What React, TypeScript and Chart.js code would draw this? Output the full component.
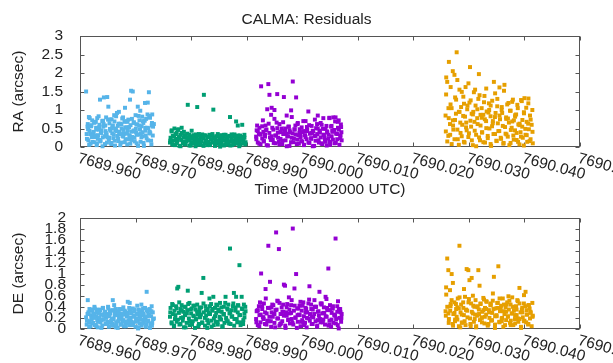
import React, { useEffect, useRef } from 'react';
import { Chart, registerables } from 'chart.js';

Chart.register(...registerables);

const FONT = "'Liberation Sans', Arial, Helvetica, sans-serif";
const TEXT = '#222222';
const FRAME = '#555555';
const FS = 15.5;

const chartTitle = 'CALMA: Residuals';
const xAxisTitle = 'Time (MJD2000 UTC)';
const raAxisTitle = 'RA (arcsec)';
const deAxisTitle = 'DE (arcsec)';

const xTickLabels = ['7689.960', '7689.970', '7689.980', '7689.990', '7690.000', '7690.010', '7690.020', '7690.030', '7690.040', '7690.050'];
const raTickLabels = ['0', '0.5', '1', '1.5', '2', '2.5', '3'];
const deTickLabels = ['0', '0.2', '0.4', '0.6', '0.8', '1', '1.2', '1.4', '1.6', '1.8', '2'];

const seriesColors = ['#56b4e9', '#009e73', '#9400d3', '#e69f00'];

// ---- blue pass ----
const blueT = [
  7689.9611, 7689.9612, 7689.9614, 7689.9615, 7689.9616, 7689.9617, 7689.9619, 7689.9620, 7689.9621, 7689.9622,
  7689.9624, 7689.9625, 7689.9626, 7689.9627, 7689.9629, 7689.9630, 7689.9631, 7689.9632, 7689.9634, 7689.9635,
  7689.9636, 7689.9637, 7689.9638, 7689.9640, 7689.9641, 7689.9642, 7689.9643, 7689.9645, 7689.9646, 7689.9647,
  7689.9648, 7689.9649, 7689.9651, 7689.9652, 7689.9653, 7689.9654, 7689.9656, 7689.9657, 7689.9658, 7689.9659,
  7689.9660, 7689.9662, 7689.9663, 7689.9664, 7689.9665, 7689.9667, 7689.9668, 7689.9669, 7689.9670, 7689.9671,
  7689.9673, 7689.9674, 7689.9675, 7689.9676, 7689.9678, 7689.9679, 7689.9680, 7689.9681, 7689.9682, 7689.9684,
  7689.9685, 7689.9686, 7689.9687, 7689.9689, 7689.9690, 7689.9691, 7689.9692, 7689.9693, 7689.9695, 7689.9696,
  7689.9697, 7689.9698, 7689.9700, 7689.9701, 7689.9702, 7689.9703, 7689.9704, 7689.9706, 7689.9707, 7689.9708,
  7689.9709, 7689.9711, 7689.9712, 7689.9713, 7689.9714, 7689.9715, 7689.9717, 7689.9718, 7689.9719, 7689.9720,
  7689.9722, 7689.9723, 7689.9724, 7689.9725, 7689.9726, 7689.9728, 7689.9729, 7689.9730, 7689.9731, 7689.9733,
];
const blueRA = [
  1.50, 0.35, 0.62, 0.18, 0.81, 0.44, 0.09, 0.56, 0.27, 0.72,
  0.40, 0.13, 0.66, 0.31, 0.52, 0.05, 0.78, 0.22, 0.47, 0.60,
  1.28, 0.15, 0.38, 0.70, 0.26, 0.55, 1.34, 0.08, 0.43, 0.80,
  0.33, 1.35, 1.09, 0.20, 0.64, 0.49, 0.11, 0.75, 0.37, 0.58,
  0.24, 0.69, 0.04, 0.46, 0.83, 0.30, 0.57, 0.16, 0.95, 0.41,
  0.63, 0.12, 0.50, 0.77, 0.28, 0.36, 0.68, 1.06, 0.21, 0.53,
  0.07, 0.45, 0.74, 0.32, 1.28, 0.59, 1.52, 0.19, 1.50, 0.42,
  0.67, 0.25, 0.86, 0.39, 0.10, 0.61, 1.09, 0.34, 0.72, 0.48,
  0.14, 0.56, 0.82, 0.29, 0.65, 0.03, 1.19, 0.44, 0.76, 0.23,
  1.20, 0.51, 1.48, 0.37, 0.79, 0.17, 0.58, 0.88, 0.31, 0.62,
];
const blueDE = [
  0.21, 0.08, 0.52, 0.30, 0.14, 0.36, 0.05, 0.25, 0.18, 0.33,
  0.11, 0.28, 0.40, 0.07, 0.22, 0.35, 0.16, 0.03, 0.29, 0.19,
  0.34, 0.12, 0.26, 0.06, 0.38, 0.17, 0.24, 0.31, 0.09, 0.20,
  0.27, 0.13, 0.37, 0.04, 0.23, 0.30, 0.15, 0.33, 0.10, 0.52,
  0.19, 0.06, 0.29, 0.36, 0.12, 0.25, 0.02, 0.32, 0.18, 0.27,
  0.08, 0.35, 0.21, 0.14, 0.39, 0.05, 0.26, 0.31, 0.11, 0.23,
  0.30, 0.49, 0.16, 0.07, 0.34, 0.20, 0.28, 0.13, 0.37, 0.09,
  0.24, 0.32, 0.04, 0.18, 0.27, 0.42, 0.15, 0.35, 0.10, 0.22,
  0.29, 0.06, 0.33, 0.17, 0.25, 0.12, 0.38, 0.21, 0.08, 0.67,
  0.31, 0.14, 0.26, 0.36, 0.02, 0.23, 0.41, 0.11, 0.30, 0.19,
];
const blueT2 = [
  7689.96125, 7689.96145, 7689.96165, 7689.96185, 7689.96205, 7689.96225, 7689.96245, 7689.96265, 7689.96285, 7689.96305,
  7689.96325, 7689.96345, 7689.96365, 7689.96385, 7689.96405, 7689.96425, 7689.96445, 7689.96465, 7689.96485, 7689.96505,
  7689.96525, 7689.96545, 7689.96565, 7689.96585, 7689.96605, 7689.96625, 7689.96645, 7689.96665, 7689.96685, 7689.96705,
  7689.96725, 7689.96745, 7689.96765, 7689.96785, 7689.96805, 7689.96825, 7689.96845, 7689.96865, 7689.96885, 7689.96905,
  7689.96925, 7689.96945, 7689.96965, 7689.96985, 7689.97005, 7689.97025, 7689.97045, 7689.97065, 7689.97085, 7689.97105,
  7689.97125, 7689.97145, 7689.97165, 7689.97185, 7689.97205, 7689.97225, 7689.97245, 7689.97265, 7689.97285, 7689.97315,
];
const blueRA2 = [
  0.22, 0.48, 0.06, 0.35, 0.59, 0.14, 0.41, 0.27, 0.68, 0.10,
  0.32, 0.53, 0.19, 0.45, 0.02, 0.62, 0.29, 0.38, 0.12, 0.74,
  0.25, 0.44, 0.08, 0.57, 0.34, 0.17, 0.50, 0.92, 0.23, 0.39,
  0.05, 0.61, 0.30, 0.46, 0.13, 0.70, 0.36, 0.21, 0.54, 0.09,
  0.42, 0.27, 0.65, 0.15, 0.49, 0.33, 0.03, 0.58, 0.98, 0.26,
  0.40, 0.11, 0.71, 0.31, 0.52, 0.18, 0.84, 0.37, 0.07, 0.55,
];
const blueDE2 = [
  0.15, 0.27, 0.04, 0.33, 0.19, 0.10, 0.24, 0.37, 0.07, 0.29,
  0.13, 0.21, 0.35, 0.02, 0.26, 0.17, 0.31, 0.09, 0.23, 0.40,
  0.12, 0.28, 0.06, 0.34, 0.18, 0.25, 0.03, 0.30, 0.14, 0.36,
  0.20, 0.08, 0.27, 0.16, 0.33, 0.05, 0.24, 0.11, 0.38, 0.19,
  0.29, 0.07, 0.22, 0.35, 0.13, 0.26, 0.01, 0.31, 0.17, 0.44,
  0.10, 0.28, 0.21, 0.04, 0.34, 0.15, 0.25, 0.09, 0.32, 0.18,
];
const blueT3 = [
  7689.96135, 7689.96175, 7689.96215, 7689.96255, 7689.96295, 7689.96335, 7689.96375, 7689.96415, 7689.96455, 7689.96495,
  7689.96535, 7689.96575, 7689.96615, 7689.96655, 7689.96695, 7689.96735, 7689.96775, 7689.96815, 7689.96855, 7689.96895,
  7689.96935, 7689.96975, 7689.97015, 7689.97055, 7689.97095, 7689.97135, 7689.97175, 7689.97215, 7689.97255, 7689.97295,
];
const blueRA3 = [
  0.55, 0.78, 0.31, 0.66, 0.47, 0.83, 0.39, 0.71, 0.58, 0.26,
  0.74, 0.50, 0.86, 0.43, 0.63, 0.35, 0.80, 0.53, 0.68, 0.29,
  0.76, 0.45, 0.61, 0.84, 0.37, 0.70, 0.52, 0.88, 0.41, 0.65,
];
const blueDE3 = [
  0.27, 0.12, 0.35, 0.20, 0.05, 0.31, 0.16, 0.38, 0.24, 0.09,
  0.33, 0.18, 0.43, 0.07, 0.29, 0.22, 0.36, 0.13, 0.26, 0.47,
  0.11, 0.32, 0.19, 0.03, 0.28, 0.37, 0.15, 0.23, 0.34, 0.06,
];

// ---- green pass ----
const greenT = [
  7689.9762, 7689.9763, 7689.9765, 7689.9766, 7689.9767, 7689.9769, 7689.9770, 7689.9771, 7689.9773, 7689.9774,
  7689.9775, 7689.9777, 7689.9778, 7689.9779, 7689.9781, 7689.9782, 7689.9783, 7689.9785, 7689.9786, 7689.9787,
  7689.9789, 7689.9790, 7689.9792, 7689.9793, 7689.9794, 7689.9796, 7689.9797, 7689.9798, 7689.9800, 7689.9801,
  7689.9803, 7689.9804, 7689.9805, 7689.9807, 7689.9808, 7689.9809, 7689.9811, 7689.9812, 7689.9814, 7689.9815,
  7689.9816, 7689.9818, 7689.9819, 7689.9820, 7689.9822, 7689.9823, 7689.9825, 7689.9826, 7689.9827, 7689.9829,
  7689.9830, 7689.9831, 7689.9833, 7689.9834, 7689.9836, 7689.9837, 7689.9838, 7689.9840, 7689.9841, 7689.9843,
  7689.9844, 7689.9845, 7689.9847, 7689.9848, 7689.9849, 7689.9851, 7689.9852, 7689.9854, 7689.9855, 7689.9856,
  7689.9858, 7689.9859, 7689.9860, 7689.9862, 7689.9863, 7689.9865, 7689.9866, 7689.9867, 7689.9869, 7689.9870,
  7689.9871, 7689.9873, 7689.9874, 7689.9876, 7689.9877, 7689.9878, 7689.9880, 7689.9881, 7689.9883, 7689.9884,
  7689.9885, 7689.9887, 7689.9888, 7689.9889, 7689.9891, 7689.9892, 7689.9894, 7689.9895, 7689.9896, 7689.9898,
];
const greenRA = [
  0.12, 0.25, 0.45, 0.08, 0.30, 0.18, 0.50, 0.05, 0.22, 0.38,
  0.14, 0.48, 0.27, 0.03, 0.33, 0.19, 0.52, 0.10, 0.26, 0.41,
  0.07, 0.31, 0.16, 0.36, 1.14, 0.21, 0.04, 0.29, 0.13, 0.44,
  0.24, 0.09, 0.32, 0.17, 0.02, 0.27, 1.08, 0.11, 0.35, 0.20,
  0.06, 0.28, 0.15, 0.34, 0.23, 1.41, 0.10, 0.30, 0.18, 0.05,
  0.26, 0.14, 0.33, 0.08, 0.21, 0.31, 0.12, 1.01, 0.25, 0.03,
  0.19, 0.29, 0.09, 0.35, 0.16, 0.24, 0.06, 0.32, 0.13, 0.22,
  0.28, 0.04, 0.18, 0.33, 0.11, 0.26, 0.20, 0.07, 0.30, 0.81,
  0.15, 0.24, 0.05, 0.29, 0.12, 0.34, 0.19, 0.69, 0.09, 0.58,
  0.22, 0.14, 0.31, 0.06, 0.27, 0.60, 0.17, 0.10, 0.25, 0.13,
];
const greenDE = [
  0.22, 0.38, 0.10, 0.45, 0.27, 0.05, 0.33, 0.18, 0.41, 0.13,
  0.73, 0.76, 0.29, 0.08, 0.36, 0.20, 0.43, 0.15, 0.31, 0.03,
  0.25, 0.40, 0.11, 0.34, 0.69, 0.19, 0.47, 0.07, 0.28, 0.37,
  0.14, 0.42, 0.23, 0.02, 0.35, 0.17, 0.44, 0.26, 0.09, 0.32,
  0.21, 0.39, 0.65, 0.12, 0.92, 0.30, 0.06, 0.41, 0.24, 0.16,
  0.36, 0.10, 0.55, 0.27, 0.45, 0.04, 0.33, 0.58, 0.19, 0.38,
  0.13, 0.29, 0.43, 0.08, 0.35, 0.22, 0.47, 0.17, 0.31, 0.05,
  0.26, 0.40, 0.11, 0.58, 0.20, 0.37, 0.14, 0.44, 0.28, 1.45,
  0.09, 0.34, 0.23, 0.46, 0.65, 0.18, 0.39, 0.58, 0.12, 0.30,
  0.42, 1.15, 0.25, 0.07, 0.58, 0.36, 0.16, 0.44, 0.21, 0.32,
];
const greenT2 = [
  7689.97625, 7689.97648, 7689.97671, 7689.97694, 7689.97717, 7689.97740, 7689.97763, 7689.97786, 7689.97809, 7689.97832,
  7689.97855, 7689.97878, 7689.97901, 7689.97924, 7689.97947, 7689.97970, 7689.97993, 7689.98016, 7689.98039, 7689.98062,
  7689.98085, 7689.98108, 7689.98131, 7689.98154, 7689.98177, 7689.98200, 7689.98223, 7689.98246, 7689.98269, 7689.98292,
  7689.98315, 7689.98338, 7689.98361, 7689.98384, 7689.98407, 7689.98430, 7689.98453, 7689.98476, 7689.98499, 7689.98522,
  7689.98545, 7689.98568, 7689.98591, 7689.98614, 7689.98637, 7689.98660, 7689.98683, 7689.98706, 7689.98729, 7689.98752,
  7689.98775, 7689.98798, 7689.98821, 7689.98844, 7689.98867, 7689.98890, 7689.98913, 7689.98936, 7689.98959, 7689.98975,
];
const greenRA2 = [
  0.17, 0.42, 0.06, 0.29, 0.35, 0.11, 0.46, 0.23, 0.02, 0.38,
  0.15, 0.31, 0.08, 0.26, 0.19, 0.33, 0.04, 0.22, 0.28, 0.12,
  0.34, 0.07, 0.20, 0.30, 0.14, 0.25, 0.03, 0.32, 0.18, 0.10,
  0.27, 0.05, 0.21, 0.35, 0.13, 0.24, 0.09, 0.30, 0.16, 0.01,
  0.26, 0.19, 0.33, 0.06, 0.22, 0.12, 0.29, 0.04, 0.34, 0.17,
  0.08, 0.25, 0.14, 0.31, 0.02, 0.20, 0.27, 0.11, 0.33, 0.07,
];
const greenDE2 = [
  0.30, 0.12, 0.43, 0.06, 0.25, 0.37, 0.17, 0.48, 0.09, 0.33,
  0.21, 0.40, 0.03, 0.28, 0.45, 0.14, 0.35, 0.08, 0.24, 0.42,
  0.18, 0.31, 0.05, 0.38, 0.26, 0.11, 0.46, 0.20, 0.34, 0.02,
  0.29, 0.41, 0.15, 0.36, 0.07, 0.23, 0.44, 0.13, 0.32, 0.19,
  0.39, 0.04, 0.27, 0.47, 0.16, 0.35, 0.10, 0.30, 0.22, 0.41,
  0.06, 0.33, 0.18, 0.43, 0.25, 0.12, 0.37, 0.09, 0.28, 0.40,
];

// ---- purple pass ----
const purpleT = [
  7689.9917, 7689.9918, 7689.9920, 7689.9922, 7689.9923, 7689.9925, 7689.9926, 7689.9928, 7689.9930, 7689.9931,
  7689.9933, 7689.9934, 7689.9936, 7689.9937, 7689.9939, 7689.9941, 7689.9942, 7689.9944, 7689.9945, 7689.9947,
  7689.9948, 7689.9950, 7689.9952, 7689.9953, 7689.9955, 7689.9956, 7689.9958, 7689.9959, 7689.9961, 7689.9963,
  7689.9964, 7689.9966, 7689.9967, 7689.9969, 7689.9970, 7689.9972, 7689.9973, 7689.9975, 7689.9977, 7689.9978,
  7689.9980, 7689.9981, 7689.9983, 7689.9984, 7689.9986, 7689.9988, 7689.9989, 7689.9991, 7689.9992, 7689.9994,
  7689.9995, 7689.9997, 7689.9999, 7690.0000, 7690.0002, 7690.0003, 7690.0005, 7690.0006, 7690.0008, 7690.0009,
  7690.0011, 7690.0013, 7690.0014, 7690.0016, 7690.0017, 7690.0019, 7690.0020, 7690.0022, 7690.0024, 7690.0025,
  7690.0027, 7690.0028, 7690.0030, 7690.0031, 7690.0033, 7690.0035, 7690.0036, 7690.0038, 7690.0039, 7690.0041,
  7690.0042, 7690.0044, 7690.0045, 7690.0047, 7690.0049, 7690.0050, 7690.0052, 7690.0053, 7690.0055, 7690.0056,
  7690.0058, 7690.0060, 7690.0061, 7690.0063, 7690.0064, 7690.0066, 7690.0067, 7690.0069, 7690.0070, 7690.0071,
];
const purpleRA = [
  0.28, 0.45, 0.12, 0.36, 0.52, 0.07, 1.64, 0.23, 0.41, 0.16,
  0.33, 0.58, 0.05, 1.02, 1.70, 1.41, 0.26, 0.87, 1.06, 0.19,
  0.47, 1.00, 0.10, 0.31, 1.43, 0.39, 0.14, 0.62, 0.22, 0.50,
  0.08, 0.35, 1.35, 0.44, 0.18, 0.85, 0.29, 0.55, 0.03, 0.40,
  0.99, 0.25, 1.77, 0.13, 0.48, 0.34, 1.34, 0.20, 0.65, 0.09,
  0.38, 0.27, 0.53, 0.15, 0.43, 0.06, 0.32, 0.70, 0.21, 0.46,
  0.96, 0.11, 0.37, 0.24, 0.57, 0.02, 0.42, 0.30, 0.17, 0.51,
  0.35, 0.85, 0.12, 0.44, 0.26, 0.60, 0.08, 0.78, 0.33, 0.19,
  0.49, 0.04, 0.39, 0.23, 0.79, 0.14, 0.55, 0.29, 0.41, 0.80,
  0.10, 0.80, 0.36, 0.21, 0.68, 0.47, 0.06, 0.31, 0.54, 0.18,
];
const purpleDE = [
  0.18, 0.32, 0.07, 0.41, 0.25, 0.12, 1.00, 0.36, 0.21, 0.46,
  0.09, 0.72, 0.28, 0.15, 1.50, 0.38, 0.85, 0.04, 0.30, 0.22,
  0.43, 0.11, 0.34, 1.74, 0.19, 0.50, 1.44, 0.06, 0.27, 0.39,
  0.14, 0.31, 0.80, 0.78, 0.02, 0.24, 0.45, 0.17, 0.35, 0.10,
  0.29, 0.52, 1.81, 0.08, 0.73, 0.20, 0.99, 0.37, 0.13, 0.26,
  0.42, 0.05, 0.33, 0.16, 0.48, 0.23, 0.11, 0.38, 0.03, 0.30,
  0.19, 0.77, 0.27, 0.44, 0.09, 0.35, 0.21, 0.52, 0.14, 0.40,
  0.06, 0.31, 0.24, 0.67, 0.12, 0.46, 0.28, 0.17, 0.39, 0.08,
  0.58, 0.22, 0.34, 1.09, 0.15, 0.43, 0.04, 0.29, 0.37, 0.11,
  0.25, 1.63, 0.18, 0.41, 0.07, 0.36, 0.20, 0.30, 0.13, 0.27,
];
const purpleT2 = [
  7689.99175, 7689.99201, 7689.99227, 7689.99253, 7689.99279, 7689.99305, 7689.99331, 7689.99357, 7689.99383, 7689.99409,
  7689.99435, 7689.99461, 7689.99487, 7689.99513, 7689.99539, 7689.99565, 7689.99591, 7689.99617, 7689.99643, 7689.99669,
  7689.99695, 7689.99721, 7689.99747, 7689.99773, 7689.99799, 7689.99825, 7689.99851, 7689.99877, 7689.99903, 7689.99929,
  7689.99955, 7689.99981, 7690.00007, 7690.00033, 7690.00059, 7690.00085, 7690.00111, 7690.00137, 7690.00163, 7690.00189,
  7690.00215, 7690.00241, 7690.00267, 7690.00293, 7690.00319, 7690.00345, 7690.00371, 7690.00397, 7690.00423, 7690.00449,
  7690.00475, 7690.00501, 7690.00527, 7690.00553, 7690.00579, 7690.00605, 7690.00631, 7690.00657, 7690.00683, 7690.00705,
];
const purpleRA2 = [
  0.21, 0.43, 0.09, 0.34, 0.56, 0.15, 0.28, 0.47, 0.04, 0.38,
  0.19, 0.52, 0.11, 0.31, 0.66, 0.25, 0.07, 0.41, 0.17, 0.35,
  0.50, 0.02, 0.29, 0.45, 0.13, 0.37, 0.23, 0.58, 0.08, 0.32,
  0.48, 0.16, 0.40, 0.05, 0.27, 0.54, 0.12, 0.36, 0.22, 0.44,
  0.03, 0.30, 0.62, 0.18, 0.39, 0.10, 0.49, 0.26, 0.14, 0.42,
  0.33, 0.06, 0.57, 0.20, 0.46, 0.11, 0.35, 0.72, 0.24, 0.40,
];
const purpleDE2 = [
  0.12, 0.34, 0.05, 0.26, 0.41, 0.18, 0.30, 0.08, 0.38, 0.22,
  0.14, 0.44, 0.27, 0.03, 0.35, 0.19, 0.47, 0.10, 0.31, 0.24,
  0.06, 0.39, 0.16, 0.28, 0.43, 0.11, 0.33, 0.21, 0.02, 0.37,
  0.25, 0.13, 0.42, 0.07, 0.30, 0.20, 0.46, 0.15, 0.36, 0.09,
  0.27, 0.40, 0.04, 0.32, 0.18, 0.44, 0.12, 0.29, 0.23, 0.38,
  0.06, 0.34, 0.17, 0.41, 0.26, 0.10, 0.31, 0.01, 0.36, 0.20,
];
const purpleT3 = [
  7689.99188, 7689.99240, 7689.99292, 7689.99344, 7689.99396, 7689.99448, 7689.99500, 7689.99552, 7689.99604, 7689.99656,
  7689.99708, 7689.99760, 7689.99812, 7689.99864, 7689.99916, 7689.99968, 7690.00020, 7690.00072, 7690.00124, 7690.00176,
  7690.00228, 7690.00280, 7690.00332, 7690.00384, 7690.00436, 7690.00488, 7690.00540, 7690.00592, 7690.00644, 7690.00696,
];
const purpleRA3 = [
  0.58, 0.34, 0.72, 0.45, 0.63, 0.29, 0.76, 0.51, 0.40, 0.67,
  0.36, 0.55, 0.81, 0.47, 0.62, 0.31, 0.70, 0.43, 0.59, 0.38,
  0.74, 0.50, 0.65, 0.33, 0.57, 0.78, 0.44, 0.69, 0.52, 0.61,
];
const purpleDE3 = [
  0.33, 0.48, 0.21, 0.55, 0.14, 0.39, 0.27, 0.51, 0.09, 0.44,
  0.30, 0.57, 0.18, 0.42, 0.25, 0.49, 0.12, 0.36, 0.53, 0.22,
  0.40, 0.16, 0.46, 0.29, 0.54, 0.08, 0.37, 0.24, 0.50, 0.19,
];

// ---- orange pass ----
const orangeT = [
  7690.0258, 7690.0259, 7690.0261, 7690.0263, 7690.0264, 7690.0266, 7690.0267, 7690.0269, 7690.0271, 7690.0272,
  7690.0274, 7690.0275, 7690.0277, 7690.0278, 7690.0280, 7690.0282, 7690.0283, 7690.0285, 7690.0286, 7690.0288,
  7690.0290, 7690.0291, 7690.0293, 7690.0294, 7690.0296, 7690.0297, 7690.0299, 7690.0301, 7690.0302, 7690.0304,
  7690.0305, 7690.0307, 7690.0309, 7690.0310, 7690.0312, 7690.0313, 7690.0315, 7690.0317, 7690.0318, 7690.0320,
  7690.0321, 7690.0323, 7690.0324, 7690.0326, 7690.0328, 7690.0329, 7690.0331, 7690.0332, 7690.0334, 7690.0336,
  7690.0337, 7690.0339, 7690.0340, 7690.0342, 7690.0343, 7690.0345, 7690.0347, 7690.0348, 7690.0350, 7690.0351,
  7690.0353, 7690.0355, 7690.0356, 7690.0358, 7690.0359, 7690.0361, 7690.0362, 7690.0364, 7690.0366, 7690.0367,
  7690.0369, 7690.0370, 7690.0372, 7690.0374, 7690.0375, 7690.0377, 7690.0378, 7690.0380, 7690.0381, 7690.0383,
  7690.0385, 7690.0386, 7690.0388, 7690.0389, 7690.0391, 7690.0393, 7690.0394, 7690.0396, 7690.0397, 7690.0399,
  7690.0400, 7690.0402, 7690.0404, 7690.0405, 7690.0407, 7690.0408, 7690.0410, 7690.0411, 7690.0413, 7690.0415,
];
const orangeRA = [
  0.85, 1.42, 1.76, 0.30, 2.30, 0.62, 1.15, 0.08, 2.05, 0.47,
  1.95, 0.73, 1.28, 2.56, 0.21, 0.95, 1.55, 0.38, 1.08, 0.60,
  1.36, 0.14, 0.82, 1.62, 0.45, 1.02, 0.27, 1.20, 2.16, 0.55,
  0.90, 0.05, 1.48, 0.68, 1.12, 0.33, 0.78, 1.30, 1.97, 0.18,
  0.58, 1.05, 0.40, 0.87, 1.38, 0.12, 0.70, 0.96, 0.24, 1.18,
  0.50, 0.83, 0.03, 1.25, 0.64, 1.76, 0.35, 0.92, 0.16, 1.10,
  0.43, 1.61, 0.75, 0.22, 1.00, 0.57, 0.09, 1.68, 0.36, 0.80,
  1.15, 0.28, 0.66, 0.98, 0.11, 0.52, 1.22, 0.31, 0.72, 0.45,
  0.88, 0.19, 1.05, 0.61, 0.07, 0.40, 1.27, 0.55, 0.25, 0.94,
  1.32, 0.33, 0.68, 0.14, 1.18, 0.48, 0.85, 0.21, 0.60, 0.10,
];
const orangeDE = [
  0.32, 0.75, 1.27, 1.06, 0.18, 0.70, 0.41, 0.99, 0.09, 0.27,
  0.48, 0.14, 0.36, 0.22, 0.55, 0.05, 1.50, 0.30, 0.44, 0.12,
  0.38, 0.25, 0.58, 0.07, 1.08, 0.33, 1.06, 0.88, 0.19, 0.46,
  0.92, 0.28, 0.13, 0.40, 0.52, 0.03, 0.24, 1.06, 0.35, 0.16,
  0.45, 0.21, 0.31, 0.56, 0.10, 0.38, 0.26, 0.49, 0.06, 0.34,
  0.20, 0.43, 0.15, 0.29, 0.51, 0.94, 0.08, 0.37, 0.23, 0.47,
  1.13, 0.12, 0.32, 0.42, 0.19, 0.55, 0.04, 0.27, 0.39, 0.16,
  0.48, 0.22, 0.35, 0.11, 0.44, 0.28, 0.57, 0.07, 0.33, 0.18,
  0.41, 0.25, 0.50, 0.13, 0.74, 0.30, 0.02, 0.38, 0.21, 0.46,
  0.15, 0.67, 0.34, 0.26, 0.09, 0.43, 0.19, 0.31, 0.05, 0.24,
];
const orangeT2 = [
  7690.02585, 7690.02611, 7690.02637, 7690.02663, 7690.02689, 7690.02715, 7690.02741, 7690.02767, 7690.02793, 7690.02819,
  7690.02845, 7690.02871, 7690.02897, 7690.02923, 7690.02949, 7690.02975, 7690.03001, 7690.03027, 7690.03053, 7690.03079,
  7690.03105, 7690.03131, 7690.03157, 7690.03183, 7690.03209, 7690.03235, 7690.03261, 7690.03287, 7690.03313, 7690.03339,
  7690.03365, 7690.03391, 7690.03417, 7690.03443, 7690.03469, 7690.03495, 7690.03521, 7690.03547, 7690.03573, 7690.03599,
  7690.03625, 7690.03651, 7690.03677, 7690.03703, 7690.03729, 7690.03755, 7690.03781, 7690.03807, 7690.03833, 7690.03859,
  7690.03885, 7690.03911, 7690.03937, 7690.03963, 7690.03989, 7690.04015, 7690.04041, 7690.04067, 7690.04093, 7690.04145,
];
const orangeRA2 = [
  0.42, 0.15, 0.78, 0.33, 1.05, 0.58, 0.21, 0.90, 0.47, 0.06,
  0.66, 0.29, 0.84, 0.12, 0.53, 1.12, 0.37, 0.71, 0.18, 0.95,
  0.44, 0.02, 0.62, 0.26, 0.87, 0.39, 0.13, 0.75, 0.51, 0.30,
  1.00, 0.08, 0.56, 0.35, 0.81, 0.17, 0.64, 0.43, 0.25, 0.92,
  0.11, 0.54, 0.34, 0.77, 0.05, 0.46, 0.69, 0.20, 0.86, 0.38,
  0.14, 0.59, 0.28, 0.73, 0.04, 0.49, 0.32, 0.63, 0.16, 0.41,
];
const orangeDE2 = [
  0.24, 0.40, 0.11, 0.33, 0.52, 0.06, 0.29, 0.45, 0.17, 0.37,
  0.03, 0.26, 0.48, 0.14, 0.35, 0.21, 0.54, 0.09, 0.31, 0.42,
  0.18, 0.05, 0.39, 0.27, 0.46, 0.12, 0.34, 0.22, 0.50, 0.08,
  0.30, 0.43, 0.16, 0.36, 0.02, 0.25, 0.47, 0.13, 0.38, 0.20,
  0.32, 0.07, 0.44, 0.23, 0.51, 0.15, 0.28, 0.40, 0.10, 0.35,
  0.19, 0.46, 0.04, 0.30, 0.14, 0.41, 0.26, 0.08, 0.37, 0.22,
];
const orangeT3 = [
  7690.02592, 7690.02632, 7690.02672, 7690.02712, 7690.02752, 7690.02792, 7690.02832, 7690.02872, 7690.02912, 7690.02952,
  7690.02992, 7690.03032, 7690.03072, 7690.03112, 7690.03152, 7690.03192, 7690.03232, 7690.03272, 7690.03312, 7690.03352,
  7690.03392, 7690.03432, 7690.03472, 7690.03512, 7690.03552, 7690.03592, 7690.03632, 7690.03672, 7690.03712, 7690.03752,
  7690.03792, 7690.03832, 7690.03872, 7690.03912, 7690.03952, 7690.03992, 7690.04032, 7690.04072, 7690.04112, 7690.04142,
];
const orangeRA3 = [
  1.88, 1.05, 1.62, 0.72, 1.34, 1.81, 0.95, 1.49, 1.17, 0.66,
  1.72, 1.26, 0.88, 1.55, 1.02, 1.40, 0.79, 1.21, 1.58, 0.93,
  1.12, 0.70, 1.45, 1.30, 0.85, 1.08, 1.52, 0.76, 1.19, 0.98,
  1.28, 0.82, 1.14, 0.63, 1.24, 0.91, 1.06, 1.31, 0.74, 1.00,
];
const orangeDE3 = [
  0.62, 0.28, 0.45, 0.83, 0.17, 0.39, 0.57, 0.11, 0.72, 0.34,
  0.48, 0.05, 0.60, 0.26, 0.41, 0.78, 0.20, 0.53, 0.36, 0.09,
  0.46, 0.64, 0.23, 0.38, 0.55, 0.14, 0.44, 0.31, 0.59, 0.07,
  0.40, 0.25, 0.52, 0.18, 0.35, 0.61, 0.12, 0.43, 0.29, 0.47,
];

const passTimes = [
  [...blueT, ...blueT2, ...blueT3],
  [...greenT, ...greenT2],
  [...purpleT, ...purpleT2, ...purpleT3],
  [...orangeT, ...orangeT2, ...orangeT3],
];
const passRA = [
  [...blueRA, ...blueRA2, ...blueRA3],
  [...greenRA, ...greenRA2],
  [...purpleRA, ...purpleRA2, ...purpleRA3],
  [...orangeRA, ...orangeRA2, ...orangeRA3],
];
const passDE = [
  [...blueDE, ...blueDE2, ...blueDE3],
  [...greenDE, ...greenDE2],
  [...purpleDE, ...purpleDE2, ...purpleDE3],
  [...orangeDE, ...orangeDE2, ...orangeDE3],
];

function makeDatasets(values: number[][]) {
  return passTimes.map((ts, k) => ({
    data: ts.map((t, i) => ({ x: t, y: values[k][i] })),
    backgroundColor: seriesColors[k],
    borderWidth: 0,
    pointRadius: 2.8,
    pointStyle: 'rect',
    showLine: false,
    clip: false as any,
  }));
}

function framePlugin(yLabels: string[], drawTitle: boolean) {
  return {
    id: 'gnuFrame',
    beforeDatasetsDraw(chart: any) {
      const { ctx, chartArea: a, scales } = chart;
      const L = Math.round(a.left) + 0.5;
      const R = Math.round(a.right) - 0.5;
      const T = Math.round(a.top) + 0.5;
      const B = Math.round(a.bottom) - 0.5;
      ctx.save();
      ctx.strokeStyle = FRAME;
      ctx.lineWidth = 1;
      ctx.strokeRect(L, T, R - L, B - T);
      ctx.beginPath();
      xTickLabels.forEach((lbl) => {
        const px = Math.round(scales.x.getPixelForValue(parseFloat(lbl))) + 0.5;
        ctx.moveTo(px, B); ctx.lineTo(px, B - 4);
        ctx.moveTo(px, T); ctx.lineTo(px, T + 4);
      });
      yLabels.forEach((lbl) => {
        const py = Math.round(scales.y.getPixelForValue(parseFloat(lbl))) + 0.5;
        ctx.moveTo(L, py); ctx.lineTo(L + 4, py);
        ctx.moveTo(R, py); ctx.lineTo(R - 4, py);
      });
      ctx.stroke();
      ctx.restore();
    },
    afterDraw(chart: any) {
      const { ctx, chartArea: a, scales, width } = chart;
      ctx.save();
      ctx.fillStyle = TEXT;
      ctx.font = `${FS}px ${FONT}`;
      xTickLabels.forEach((lbl) => {
        const px = scales.x.getPixelForValue(parseFloat(lbl));
        ctx.save();
        ctx.translate(px, a.bottom + 4);
        ctx.rotate((15 * Math.PI) / 180);
        ctx.textAlign = 'left';
        ctx.textBaseline = 'top';
        ctx.fillText(lbl, 0, 0);
        ctx.restore();
      });
      if (drawTitle) {
        ctx.textAlign = 'center';
        ctx.textBaseline = 'middle';
        ctx.fillText(chartTitle, width / 2, 20);
        ctx.fillText(xAxisTitle, (a.left + a.right) / 2, 190);
      }
      ctx.restore();
    },
  };
}

function buildConfig(values: number[][], yLabels: string[], yTitle: string, yMax: number, step: number, pad: any, labelPad: number, drawTitle: boolean) {
  return {
    type: 'scatter' as const,
    data: { datasets: makeDatasets(values) },
    options: {
      responsive: false,
      animation: false as const,
      events: [],
      layout: { padding: pad },
      plugins: { legend: { display: false }, tooltip: { enabled: false }, title: { display: false } },
      scales: {
        x: {
          type: 'linear' as const,
          display: false,
          min: parseFloat(xTickLabels[0]),
          max: parseFloat(xTickLabels[xTickLabels.length - 1]),
        },
        y: {
          type: 'linear' as const,
          min: 0,
          max: yMax,
          afterFit: (s: any) => { s.width = 80; },
          grid: { display: false },
          border: { display: false },
          ticks: {
            stepSize: step,
            autoSkip: false,
            padding: labelPad,
            color: TEXT,
            font: { family: FONT, size: FS },
            callback: (v: number) => {
              const f = yLabels.find((l) => Math.abs(parseFloat(l) - v) < 1e-6);
              return f === undefined ? '' : f;
            },
          },
          title: {
            display: true,
            text: yTitle,
            color: TEXT,
            font: { family: FONT, size: FS },
            padding: { top: 9, bottom: 0 },
          },
        },
      },
    },
    plugins: [framePlugin(yLabels, drawTitle)],
  };
}

export default function App() {
  const topRef = useRef<HTMLCanvasElement>(null);
  const botRef = useRef<HTMLCanvasElement>(null);

  useEffect(() => {
    const top = new Chart(topRef.current as HTMLCanvasElement, buildConfig(passRA, raTickLabels, raAxisTitle, 3, 0.5, { top: 36, right: 33, bottom: 53, left: 0 }, 9, true) as any);
    const bot = new Chart(botRef.current as HTMLCanvasElement, buildConfig(passDE, deTickLabels, deAxisTitle, 2, 0.2, { top: 18, right: 33, bottom: 34, left: 0 }, 6, false) as any);
    return () => { top.destroy(); bot.destroy(); };
  }, []);

  return (
    <div style={{ position: 'absolute', left: 0, top: 0, width: 613, height: 363, background: '#ffffff', overflow: 'hidden' }}>
      <canvas ref={topRef} width={613} height={200} style={{ position: 'absolute', left: 0, top: 0, display: 'block' }} />
      <canvas ref={botRef} width={613} height={163} style={{ position: 'absolute', left: 0, top: 200, display: 'block' }} />
    </div>
  );
}
